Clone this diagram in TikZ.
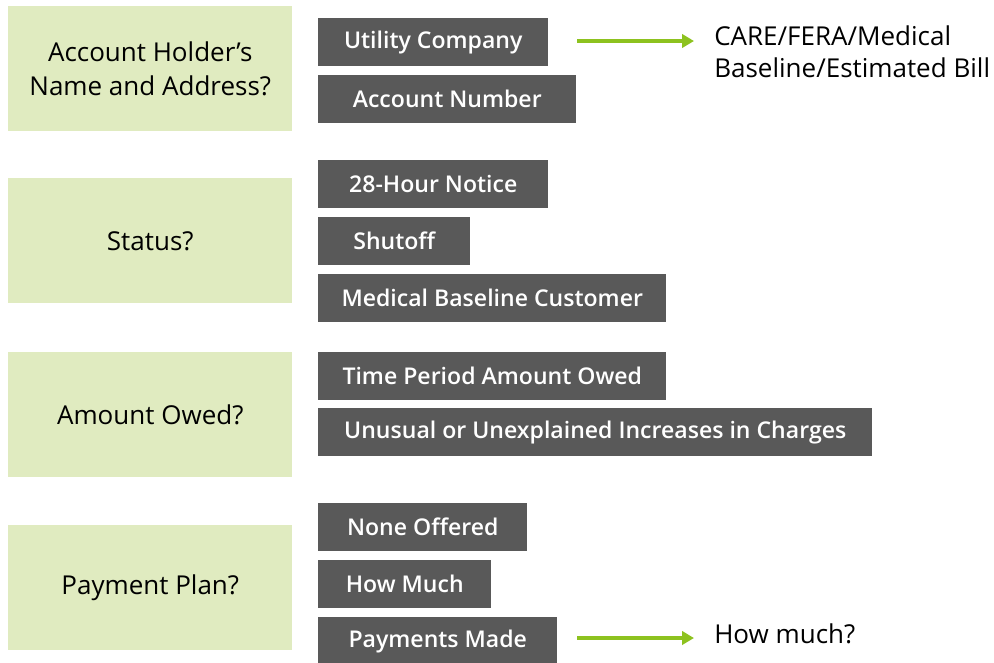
\documentclass[tikz,border=0pt]{standalone}
\usepackage{fontspec}
\setmainfont{Open Sans}
\newfontfamily\semib{Open Sans Semibold}
\definecolor{qgreen}{HTML}{E0EBC0}
\definecolor{qgray}{HTML}{595959}
\definecolor{qarrow}{HTML}{8DC21F}
\usetikzlibrary{arrows.meta}
\tikzset{
  question/.style={fill=qgreen,minimum width=284*0.75pt,minimum height=125*0.75pt,
    align=center,font=\fontsize{19.5}{25.5}\selectfont,anchor=north west,inner sep=0pt},
  detail/.style={fill=qgray,text=white,minimum height=48*0.75pt,anchor=north west,
    font=\semib\fontsize{17.3}{19}\selectfont,inner sep=0pt},
  note/.style={anchor=west,align=left,font=\fontsize{19.5}{24}\selectfont,inner sep=0pt},
  pointer/.style={qarrow,line width=3pt,-{Triangle[length=9pt,width=10pt]}}
}
\begin{document}
\begin{tikzpicture}[x=0.75pt,y=-0.75pt]
    \useasboundingbox (0,0) rectangle (994,662);

    % questions
    \node[question] (name) at (8,6) {Account Holder’s\\Name and Address?};
    \node[question] (status) at (8,178) {Status?};
    \node[question] (owed) at (8,352) {Amount Owed?};
    \node[question] (plan) at (8,525) {Payment Plan?};

    % details
    \node[detail,minimum width=230*0.75pt] (utility) at (318,18) {Utility Company};
    \node[detail,minimum width=258*0.75pt] (account) at (318,75) {Account Number};
    \node[detail,minimum width=230*0.75pt] (notice) at (318,160) {28-Hour Notice};
    \node[detail,minimum width=152*0.75pt] (shutoff) at (318,217) {Shutoff};
    \node[detail,minimum width=348*0.75pt] (medical) at (318,274) {Medical Baseline Customer};
    \node[detail,minimum width=348*0.75pt] (period) at (318,352) {Time Period Amount Owed};
    \node[detail,minimum width=554*0.75pt] (unusual) at (318,408) {Unusual or Unexplained Increases in Charges};
    \node[detail,minimum width=209*0.75pt] (none) at (318,503) {None Offered};
    \node[detail,minimum width=173*0.75pt] (howmuch) at (318,560) {How Much};
    \node[detail,minimum width=239*0.75pt] (made) at (318,617) {Payments Made};

    % notes
    \node[note] (care) at (714,52) {CARE/FERA/Medical\\Baseline/Estimated Bill};
    \node[note] (much) at (714,634) {How much?};

    \coordinate (a1) at (577,41);
    \coordinate (b1) at (694,41);
    \coordinate (a2) at (577,638);
    \coordinate (b2) at (694,638);
    \draw[pointer] (a1) -- (b1);
    \draw[pointer] (a2) -- (b2);
\end{tikzpicture}
\end{document}
